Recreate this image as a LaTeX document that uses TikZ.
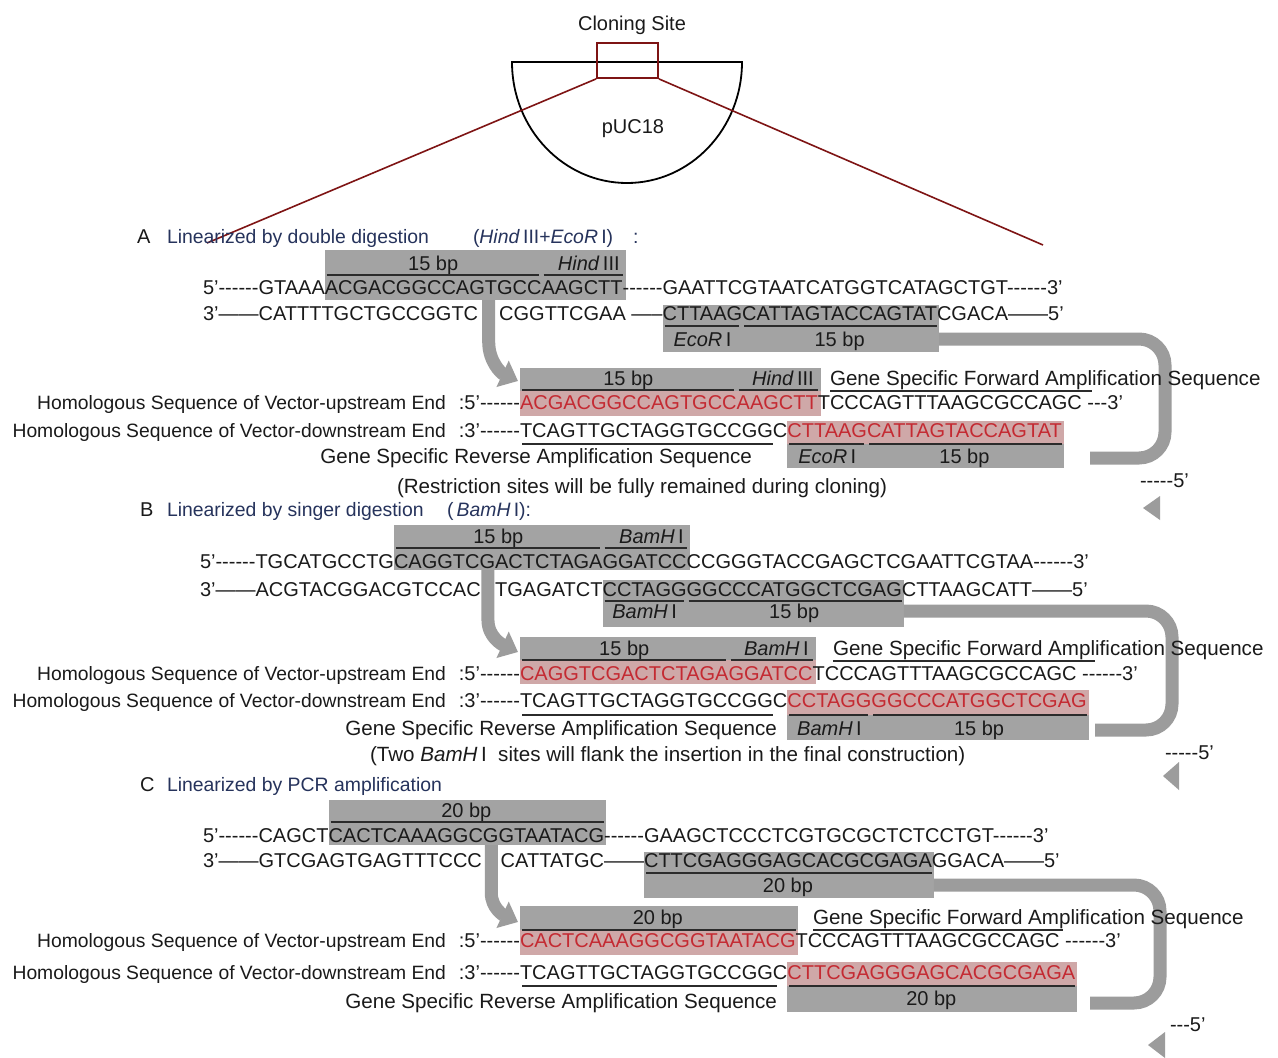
\documentclass[tikz,border=0pt]{standalone}
\usepackage{fontspec}
\newfontfamily\af[Ligatures=TeXOff]{Liberation Sans}
\usetikzlibrary{calc,arrows.meta}
\definecolor{boxgray}{HTML}{A3A3A3}
\definecolor{pinkbg}{HTML}{CFA8A8}
\definecolor{redtxt}{HTML}{C42A32}
\definecolor{arrowgray}{HTML}{9C9C9C}
\definecolor{uline}{HTML}{2B2B2B}
\definecolor{navy}{HTML}{26335C}
\definecolor{dred}{HTML}{7E1414}
\definecolor{ink}{HTML}{1A1A1A}
\pgfdeclarelayer{bg}\pgfdeclarelayer{arr}\pgfsetlayers{bg,arr,main}
\begin{document}
\begin{tikzpicture}[x=1pt,y=-1pt,
  sq/.style={font=\af\fontsize{20}{24}\selectfont, text=ink, inner sep=0pt, outer sep=0pt, anchor=base west},
  sqe/.style={sq, anchor=base east},
  sqc/.style={sq, anchor=base},
  lab/.style={sqe, font=\af\fontsize{19.3}{23}\selectfont},
  note/.style={sq, font=\af\fontsize{20.6}{24}\selectfont},
  notee/.style={note, anchor=base east},
  rq/.style={sq, text=redtxt},
  ttl/.style={sq, text=navy, font=\af\fontsize{19.4}{23}\selectfont},
  ul/.style={draw=uline, line width=1.5pt},
  gbox/.style={fill=boxgray},
  pbox/.style={fill=pinkbg},
  garrow/.style={draw=arrowgray, line width=13pt},
  tip/.style={-{Triangle[length=17pt,width=28pt]}},
  mark5/.style={fill=arrowgray},
]
\begin{pgfonlayer}{bg}
\fill[white] (0,0) rectangle (1278,1058);
\end{pgfonlayer}
\useasboundingbox (0,0) rectangle (1278,1058);

% ---------------- top plasmid ----------------
\node[sqc] (cs) at (632,30) {Cloning Site};
\draw[black, line width=1.8pt] (512,62) -- (742,62) arc[start angle=0, end angle=-180, x radius=115pt, y radius=121pt] -- cycle;
\node[sqc] (puc) at (633,133) {pUC18};
\node[draw=dred, line width=1.8pt, minimum width=61pt, minimum height=35pt, inner sep=0pt] (cl) at (627.5,60.5) {};
\coordinate (zl) at (207,243);
\coordinate (zr) at (1043,245);
\draw[dred, line width=1.6pt] (cl.south west) -- (zl);
\draw[dred, line width=1.6pt] (cl.south east) -- (zr);

% ================= Section A =================
\node[sq] (Aa) at (137,243) {A};
\node[ttl] (At) at (167,243) {Linearized by double digestion};
\node[ttl] (Ae) at (473,243) {(\textit{Hind}\,III+\textit{EcoR}\,I)};
\node[ttl] (Ac) at (633,243) {:};

\node[sq] (a1) at (203,294) {5’------GTAAA};
\node[sq] (a2) at (a1.base east) {ACGACGGCCAGTGCC};
\node[sq] (a3) at (a2.base east) {AAGCTT};
\node[sq] (a4) at (a3.base east) {------};
\node[sq] (a5) at (a4.base east) {GAATTCGTAATCATGGTCATAGCTGT------3’};

\node[sq] (b1) at (203,320) {3’——CATTTTGCTGCCGGTC};
\node[sq] (b4) at ($(a5.base west)+(0,26)$) {CTTAAG};
\node[sqe] (b3) at (b4.base west) {CGGTTCGAA —–};
\node[sq] (b5) at (b4.base east) {CATTAGTACCAGTAT};
\node[sq] (b6) at (b5.base east) {CGACA——5’};

\node[sqc] (a2l) at ($(a2.base)+(0,-24)$) {15 bp};
\node[sqe] (a3l) at ($(a3.base east)+(-3,-24)$) {\textit{Hind}\,III};
\draw[ul] ($(a2.base west)+(2,-19)$) -- ($(a2.base east)+(-3,-19)$);
\draw[ul] ($(a3.base west)+(2,-19)$) -- ($(a3.base east)+(0,-19)$);
\draw[ul] ($(b4.base west)+(2,6)$) -- ($(b4.base east)+(-3,6)$);
\draw[ul] ($(b5.base west)+(2,6)$) -- ($(b5.base east)+(0,6)$);
\node[sqc] (b4l) at ($(b4.base)+(0,26)$) {\textit{EcoR}\,I};
\node[sqc] (b5l) at ($(b5.base)+(0,26)$) {15 bp};

\node[lab] (fl) at (446,409) {Homologous Sequence of Vector-upstream End};
\node[sqe] (fk) at (520,409) {:5’------};
\node[rq] (f2) at (fk.base east) {ACGACGGCCAGTGCC};
\node[rq] (f3) at (f2.base east) {AAGCTT};
\node[sq] (f4) at (f3.base east) {TCCCAGTTTAAGCGCCAGC ---3’};
\node[sqc] (f2l) at ($(f2.base)+(0,-24)$) {15 bp};
\node[sqe] (f3l) at ($(f3.base east)+(-4,-24)$) {\textit{Hind}\,III};
\draw[ul] ($(f2.base west)+(2,-19)$) -- ($(f2.base east)+(-3,-19)$);
\draw[ul] ($(f3.base west)+(2,-19)$) -- ($(f3.base east)+(0,-19)$);
\node[note] (gA) at (830,385) {Gene Specific Forward Amplification Sequence};
\draw[ul] ($(gA.base west)+(0,6)$) -- ($(gA.base west)+(262,6)$);

\node[lab] (gl) at (446,437) {Homologous Sequence of Vector-downstream End};
\node[sqe] (gk) at (520,437) {:3’------};
\node[sq] (g2) at (gk.base east) {TCAGTTGCTAGGTGCCGGC};
\node[rq] (g3) at (g2.base east) {CTTAAG};
\node[rq] (g4) at (g3.base east) {CATTAGTACCAGTAT};
\draw[ul] ($(g2.base west)+(2,7)$) -- ($(g2.base east)+(-14,7)$);
\draw[ul] ($(g3.base west)+(2,7)$) -- ($(g3.base east)+(-3,7)$);
\draw[ul] ($(g4.base west)+(2,7)$) -- ($(g4.base east)+(0,7)$);
\node[sqc] (g3l) at ($(g3.base)+(0,26)$) {\textit{EcoR}\,I};
\node[sqc] (g4l) at ($(g4.base)+(0,26)$) {15 bp};
\node[notee] (rA) at (752,463) {Gene Specific Reverse Amplification Sequence};
\node[note] (nA) at (397,493) {(Restriction sites will be fully remained during cloning)};
\node[sq] (e5A) at (1140,487) {-----5’};

\begin{pgfonlayer}{bg}
\fill[gbox] ($(a2.base west)+(0,-44)$) rectangle ($(a3.base east)+(3,6)$);
\fill[gbox] ($(b4.base west)+(0,-15)$) rectangle ($(b5.base east)+(2,32)$);
\fill[gbox] ($(f2.base west)+(0,-41)$) rectangle ($(f3.base east)+(3,-18)$);
\fill[pbox] ($(f2.base west)+(0,-18)$) rectangle ($(f3.base east)+(3,7)$);
\fill[pbox] ($(g3.base west)+(0,-16)$) rectangle ($(g4.base east)+(2,7)$);
\fill[gbox] ($(g3.base west)+(0,7)$) rectangle ($(g4.base east)+(2,31)$);
\end{pgfonlayer}
\begin{pgfonlayer}{arr}
\coordinate (sA) at ($(b1.base east)!0.5!(b3.base west)$);
\draw[garrow,tip] ($(sA)+(0,-20)$) -- ($(sA)+(0,22)$) to[out=-90,in=155] ($(f2.base west)+(-2,-28)$);
\draw[garrow, rounded corners=26pt] ($(b5.base east)+(2,19)$) -- (1165,339) -- (1165,458) -- (1090,458);
\fill[mark5] (1143,508) -- (1160,496) -- (1160,520) -- cycle;
\end{pgfonlayer}

% ================= Section B =================
\node[sq] (Ba) at (140,516) {B};
\node[ttl] (Bt) at (167,516) {Linearized by singer digestion};
\node[ttl] (Be) at (447,516) {(\,\textit{BamH}\,I):};

\node[sq] (c1) at (200,568) {5’------TGCATGCCTG};
\node[sq] (c2) at (c1.base east) {CAGGTCGACTCTAGA};
\node[sq] (c3) at (c2.base east) {GGATCC};
\node[sq] (c4) at (c3.base east) {CCGGGTACCGAGCTCGAATTCGTAA------3’};

\node[sq] (d1) at (200,596) {3’——ACGTACGGACGTCCAC};
\node[sq] (d3) at ($(c3.base west)+(0,28)$) {CCTAGG};
\node[sqe] (d2) at (d3.base west) {TGAGATCT};
\node[sq] (d4) at (d3.base east) {GGCCCATGGCTCGAG};
\node[sq] (d5) at (d4.base east) {CTTAAGCATT——5’};

\node[sqc] (c2l) at ($(c2.base)+(0,-25)$) {15 bp};
\node[sqe] (c3l) at ($(c3.base east)+(-3,-25)$) {\textit{BamH}\,I};
\draw[ul] ($(c2.base west)+(2,-20)$) -- ($(c2.base east)+(-3,-20)$);
\draw[ul] ($(c3.base west)+(2,-20)$) -- ($(c3.base east)+(0,-20)$);
\draw[ul] ($(d3.base west)+(2,5)$) -- ($(d3.base east)+(-3,5)$);
\draw[ul] ($(d4.base west)+(2,5)$) -- ($(d4.base east)+(0,5)$);
\node[sqc] (d3l) at ($(d3.base)+(0,22)$) {\textit{BamH}\,I};
\node[sqc] (d4l) at ($(d4.base)+(0,22)$) {15 bp};

\node[lab] (hl) at (446,680) {Homologous Sequence of Vector-upstream End};
\node[sqe] (hk) at (520,680) {:5’------};
\node[rq] (h2) at (hk.base east) {CAGGTCGACTCTAGA};
\node[rq] (h3) at (h2.base east) {GGATCC};
\node[sq] (h4) at (h3.base east) {TCCCAGTTTAAGCGCCAGC ------3’};
\node[sqc] (h2l) at ($(h2.base)+(0,-25)$) {15 bp};
\node[sqe] (h3l) at ($(h3.base east)+(-4,-25)$) {\textit{BamH}\,I};
\draw[ul] ($(h2.base west)+(2,-20)$) -- ($(h2.base east)+(-3,-20)$);
\draw[ul] ($(h3.base west)+(2,-20)$) -- ($(h3.base east)+(0,-20)$);
\node[note] (gB) at (833,655) {Gene Specific Forward Amplification Sequence};
\draw[ul] ($(gB.base west)+(0,6)$) -- ($(gB.base west)+(262,6)$);

\node[lab] (kl) at (446,707) {Homologous Sequence of Vector-downstream End};
\node[sqe] (kk) at (520,707) {:3’------};
\node[sq] (k2) at (kk.base east) {TCAGTTGCTAGGTGCCGGC};
\node[rq] (k3) at (k2.base east) {CCTAGG};
\node[rq] (k4) at (k3.base east) {GGCCCATGGCTCGAG};
\draw[ul] ($(k2.base west)+(2,8)$) -- ($(k2.base east)+(-14,8)$);
\draw[ul] ($(k3.base west)+(2,8)$) -- ($(k3.base east)+(-3,8)$);
\draw[ul] ($(k4.base west)+(2,8)$) -- ($(k4.base east)+(0,8)$);
\node[sqc] (k3l) at ($(k3.base)+(0,28)$) {\textit{BamH}\,I};
\node[sqc] (k4l) at ($(k4.base)+(0,28)$) {15 bp};
\node[notee] (rB) at (777,735) {Gene Specific Reverse Amplification Sequence};
\node[note] (nB) at (370,761) {(Two \textit{BamH}\,I\ \ sites will flank the insertion in the final construction)};
\node[sq] (e5B) at (1165,759) {-----5’};

\begin{pgfonlayer}{bg}
\fill[gbox] ($(c2.base west)+(0,-43)$) rectangle ($(c3.base east)+(3,2)$);
\fill[gbox] ($(d3.base west)+(0,-16)$) rectangle ($(d4.base east)+(2,31)$);
\fill[gbox] ($(h2.base west)+(0,-43)$) rectangle ($(h3.base east)+(3,-20)$);
\fill[pbox] ($(h2.base west)+(0,-20)$) rectangle ($(h3.base east)+(3,4)$);
\fill[pbox] ($(k3.base west)+(0,-17)$) rectangle ($(k4.base east)+(2,8)$);
\fill[gbox] ($(k3.base west)+(0,8)$) rectangle ($(k4.base east)+(2,33)$);
\end{pgfonlayer}
\begin{pgfonlayer}{arr}
\coordinate (sB) at ($(d1.base east)!0.5!(d2.base west)$);
\draw[garrow,tip] ($(sB)+(0,-26)$) -- ($(sB)+(0,24)$) to[out=-90,in=155] ($(h2.base west)+(-2,-28)$);
\draw[garrow, rounded corners=26pt] ($(d4.base east)+(2,15)$) -- (1172,611) -- (1172,730) -- (1095,730);
\fill[mark5] (1163,776) -- (1179,762) -- (1179,790) -- cycle;
\end{pgfonlayer}

% ================= Section C =================
\node[sq] (Ca) at (140,791) {C};
\node[ttl] (Ct) at (167,791) {Linearized by PCR amplification};

\node[sq] (m1) at (203,842) {5’------CAGCT};
\node[sq] (m2) at (m1.base east) {CACTCAAAGGCGGTAATACG};
\node[sq] (m3) at (m2.base east) {------};
\node[sq] (m4) at (m3.base east) {GAAGCTCCCTCGTGCGCTCTCCTGT------3’};

\node[sq] (n1) at (203,867) {3’——GTCGAGTGAGTTTCCC};
\node[sq] (n3) at ($(m4.base west)+(0,25)$) {CTTCGAGGGAGCACGCGAGA};
\node[sqe] (n2) at (n3.base west) {CATTATGC——};
\node[sq] (n4) at (n3.base east) {GGACA——5’};

\node[sqc] (m2l) at ($(m2.base)+(0,-25)$) {20 bp};
\draw[ul] ($(m2.base west)+(2,-20)$) -- ($(m2.base east)+(0,-20)$);
\draw[ul] ($(n3.base west)+(2,6)$) -- ($(n3.base east)+(0,6)$);
\node[sqc] (n3l) at ($(n3.base)+(0,25)$) {20 bp};

\node[lab] (pl) at (446,947) {Homologous Sequence of Vector-upstream End};
\node[sqe] (pk) at (520,947) {:5’------};
\node[rq] (p2) at (pk.base east) {CACTCAAAGGCGGTAATACG};
\node[sq] (p3) at (p2.base east) {TCCCAGTTTAAGCGCCAGC ------3’};
\node[sqc] (p2l) at ($(p2.base)+(0,-23)$) {20 bp};
\draw[ul] ($(p2.base west)+(2,-17)$) -- ($(p2.base east)+(0,-17)$);
\node[note] (gC) at (813,924) {Gene Specific Forward Amplification Sequence};
\draw[ul] ($(gC.base west)+(0,6)$) -- ($(gC.base west)+(250,6)$);

\node[lab] (ql) at (446,979) {Homologous Sequence of Vector-downstream End};
\node[sqe] (qk) at (520,979) {:3’------};
\node[sq] (q2) at (qk.base east) {TCAGTTGCTAGGTGCCGGC};
\node[rq] (q3) at (q2.base east) {CTTCGAGGGAGCACGCGAGA};
\draw[ul] ($(q2.base west)+(2,7)$) -- ($(q2.base east)+(-10,7)$);
\draw[ul] ($(q3.base west)+(2,7)$) -- ($(q3.base east)+(0,7)$);
\node[sqc] (q3l) at ($(q3.base)+(0,26)$) {20 bp};
\node[notee] (rC) at (777,1008) {Gene Specific Reverse Amplification Sequence};
\node[sq] (e5C) at (1170,1031) {---5’};

\begin{pgfonlayer}{bg}
\fill[gbox] ($(m2.base west)+(0,-42)$) rectangle ($(m2.base east)+(2,3)$);
\fill[gbox] ($(n3.base west)+(0,-15)$) rectangle ($(n3.base east)+(2,31)$);
\fill[gbox] ($(p2.base west)+(0,-41)$) rectangle ($(p2.base east)+(2,-17)$);
\fill[pbox] ($(p2.base west)+(0,-17)$) rectangle ($(p2.base east)+(2,8)$);
\fill[pbox] ($(q3.base west)+(0,-17)$) rectangle ($(q3.base east)+(2,7)$);
\fill[gbox] ($(q3.base west)+(0,7)$) rectangle ($(q3.base east)+(2,33)$);
\end{pgfonlayer}
\begin{pgfonlayer}{arr}
\coordinate (sC) at ($(n1.base east)!0.5!(n2.base west)$);
\draw[garrow,tip] ($(sC)+(0,-22)$) -- ($(sC)+(0,26)$) to[out=-90,in=155] ($(p2.base west)+(-2,-25)$);
\draw[garrow, rounded corners=26pt] ($(n3.base east)+(2,18)$) -- (1160,885) -- (1160,1003) -- (1090,1003);
\fill[mark5] (1148,1045) -- (1165,1032) -- (1165,1058) -- cycle;
\end{pgfonlayer}
\end{tikzpicture}
\end{document}
